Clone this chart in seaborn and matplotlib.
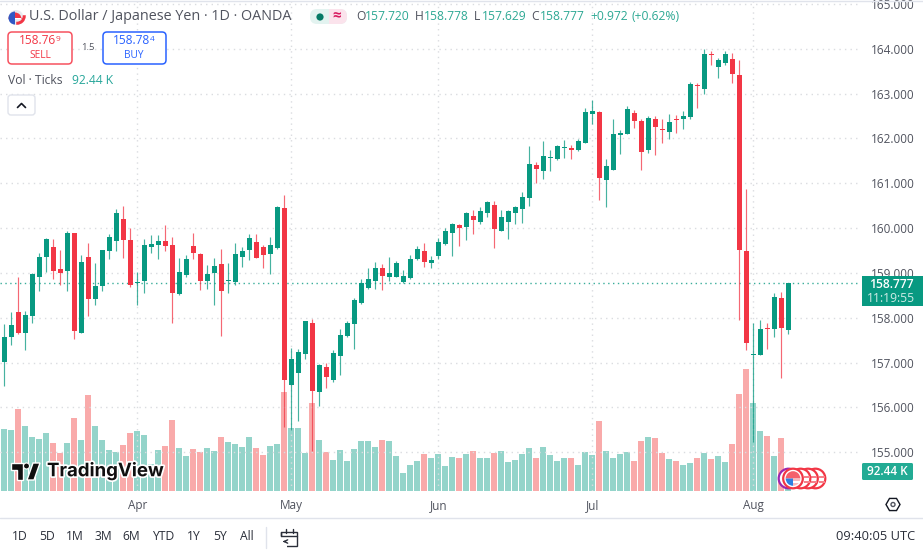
import numpy as np
import pandas as pd
import seaborn as sns
import matplotlib
matplotlib.use("Agg")
import matplotlib.pyplot as plt
import matplotlib.patheffects as pe
from matplotlib.patches import FancyBboxPatch, Circle, Rectangle, Polygon, Wedge, RegularPolygon

opens = [157.01,157.58,158.12,157.65,158.05,158.91,159.35,159.58,159.09,159.04,159.89,157.67,159.36,158.41,158.70,159.48,159.72,160.21,159.74,158.77,
         158.81,159.58,159.63,159.72,159.63,158.53,158.95,159.60,159.43,158.81,159.00,159.19,158.83,158.79,159.36,159.50,159.69,159.58,159.43,159.56,
         160.44,156.49,156.76,157.20,157.89,156.34,156.90,156.61,157.14,157.59,157.86,158.32,158.67,158.83,159.10,158.91,158.91,158.80,158.89,159.30,
         159.49,159.21,159.37,159.64,159.88,160.07,160.02,160.26,160.14,160.34,160.52,159.94,160.14,160.34,160.43,160.66,161.41,161.27,161.57,161.54,
         161.79,161.79,161.73,161.90,162.55,162.58,161.08,161.30,162.07,162.09,162.56,162.39,161.73,162.43,162.20,162.14,162.44,162.43,162.47,163.19,
         163.10,163.87,163.58,163.68,163.78,163.41,159.49,157.17,157.17,157.78,157.74,158.45,157.72]
highs = [157.85,158.12,158.90,158.15,158.99,159.45,159.78,159.76,159.51,159.93,159.90,159.41,159.67,159.22,159.51,159.87,160.43,160.49,160.00,159.02,
         159.76,159.85,159.85,160.06,159.80,159.33,159.41,159.89,159.45,159.18,159.33,159.54,159.22,159.67,159.58,159.87,159.87,159.63,159.80,160.49,
         160.74,157.33,157.31,157.93,157.97,156.96,156.99,157.29,157.76,157.93,158.43,158.86,159.11,159.25,159.20,159.36,159.26,159.06,159.40,159.60,
         159.66,159.38,159.77,160.00,160.11,160.10,160.35,160.40,160.46,160.60,160.61,160.40,160.41,160.50,160.80,161.82,161.47,161.95,161.75,161.86,
         161.97,161.86,161.98,162.67,162.85,162.61,161.54,162.44,162.18,162.72,162.63,162.43,162.50,162.50,162.44,162.55,162.52,162.61,163.25,163.23,
         163.99,163.94,163.79,163.94,163.90,163.74,160.88,157.88,157.94,157.88,158.55,158.57,158.778]
lows = [156.47,157.40,157.63,157.29,157.88,158.59,159.01,158.86,158.74,158.59,157.52,157.66,158.03,158.28,158.59,159.30,159.48,159.34,158.68,158.28,
        158.56,159.45,159.31,159.48,157.89,158.51,158.91,159.30,158.61,158.65,158.28,157.59,158.56,158.74,159.13,159.29,159.33,159.11,158.97,159.54,
        155.56,155.49,155.70,157.07,155.04,156.03,156.44,156.56,156.73,157.58,157.31,158.31,158.64,158.65,158.61,158.82,158.90,158.78,158.87,159.29,
        159.13,159.11,159.31,159.63,159.38,159.61,159.73,159.86,160.08,160.25,159.56,159.93,159.75,160.08,160.11,160.49,161.01,161.09,161.28,161.52,
        161.56,161.54,161.71,161.89,162.31,160.63,160.48,161.29,161.66,162.09,162.24,161.30,161.68,161.62,161.89,161.98,162.13,162.20,162.44,162.67,
        162.99,163.63,163.34,163.63,163.23,157.95,157.28,155.24,157.16,157.31,157.56,156.66,157.629]
closes = [157.56,157.83,157.65,158.07,158.98,159.36,159.76,159.04,159.00,159.89,157.70,159.24,158.41,158.71,159.50,159.80,160.34,159.74,158.73,158.80,
          159.63,159.65,159.72,159.60,158.56,159.02,159.30,159.44,158.81,158.98,159.15,158.60,158.85,159.43,159.49,159.78,159.34,159.41,159.63,160.47,
          156.62,157.08,157.24,157.92,156.36,156.94,156.67,157.22,157.61,157.89,158.39,158.77,158.86,159.10,158.93,158.99,159.21,158.92,159.31,159.53,
          159.24,159.28,159.68,159.94,160.10,160.01,160.33,160.17,160.37,160.57,159.97,160.24,160.37,160.48,160.69,161.43,161.31,161.60,161.58,161.82,
          161.81,161.74,161.94,162.58,162.61,161.11,161.38,162.09,162.12,162.65,162.38,161.69,162.46,162.25,162.18,162.37,162.41,162.50,163.21,163.17,
          163.87,163.86,163.74,163.87,163.43,159.52,157.43,157.20,157.75,157.76,158.47,157.77,158.777]
volumes = [308,303,404,323,265,255,285,237,190,237,361,250,475,323,250,203,193,227,288,295,
           275,132,203,222,351,213,175,208,194,213,198,265,241,232,218,265,213,180,222,232,
           489,313,313,190,437,250,194,152,203,147,208,246,246,218,250,246,171,89,127,147,
           185,165,185,122,170,165,185,198,165,165,190,198,142,152,185,213,165,218,180,150,
           165,162,127,194,180,348,198,165,185,194,147,246,265,260,190,160,147,127,137,165,
           190,160,175,142,232,480,605,437,295,270,171,260,92.44]
price_ticks = [155,156,157,158,159,160,161,162,163,164,165]
month_labels = ["Apr","May","Jun","Jul","Aug"]
month_bars = [19,41,62,84,107]
range_buttons = ["1D","5D","1M","3M","6M","YTD","1Y","5Y","All"]
last_price = 158.777

GREEN="#089981"; RED="#F23645"; VGREEN="#94D4CA"; VRED="#F9AAAA"; TEXT="#131722"; GREY="#50535E"
sns.set_style("white")
plt.rcParams['font.family'] = ['Open Sans','DejaVu Sans']

W,H=923,550
fig=plt.figure(figsize=(W/100,H/100),dpi=100,facecolor="white")
rect=[0,(H-491)/H,860/W,491/H]
axv=fig.add_axes(rect,zorder=1)
ax=fig.add_axes(rect,zorder=2,facecolor="none")
ov=fig.add_axes([0,0,1,1],zorder=3,facecolor="none")
ov.set_xlim(0,W); ov.set_ylim(H,0); ov.axis("off")

n=len(opens)
df=pd.DataFrame(dict(bar=np.arange(n),open=opens,high=highs,low=lows,close=closes,vol=volumes))
df["dir"]=np.where(df.close>=df.open,"up","down")
xl=(-0.619,122.24)

# volume
sns.barplot(data=df,x="bar",y="vol",hue="dir",native_scale=True,dodge=False,width=0.82,gap=0,linewidth=0,
            palette={"up":VGREEN,"down":VRED},saturation=1,legend=False,ax=axv)
axv.set_xlim(*xl); axv.set_ylim(0,2425); axv.axis("off")

# candles
for d,c in (("up",GREEN),("down",RED)):
    s=df[df.dir==d]
    ax.vlines(s.bar,s.low,s.high,color=c,lw=0.85,alpha=.75,zorder=3)
    ax.bar(s.bar,(s.close-s.open).abs().clip(lower=0.02),bottom=s[["open","close"]].min(axis=1),width=0.72,color=c,zorder=4,linewidth=0)

ax.set_xlim(*xl); ax.set_ylim(154.137,165.085)
for sp in ax.spines.values(): sp.set_visible(False)
ax.yaxis.tick_right()
ax.set_yticks(price_ticks); ax.set_yticklabels([f"{p:.3f}" for p in price_ticks])
ax.set_xticks(month_bars); ax.set_xticklabels(month_labels)
ax.tick_params(axis="y",length=0,pad=7.5,labelsize=8.5,labelcolor=GREY)
ax.tick_params(axis="x",length=0,pad=6,labelsize=8.5,labelcolor=GREY)
ax.grid(True,color="#DADCE0",lw=1,ls=(0,(1,3)))
ax.set_axisbelow(True)
ax.axhline(last_price,color=GREEN,lw=1,ls=(0,(1,2.5)),alpha=.8,zorder=2)

def T(x,y,s,size=8.7,color=TEXT,ha="left",va="center",**k):
    return ov.text(x,y,s,fontsize=size,color=color,ha=ha,va=va,**k)
def box(x0,y0,x1,y1,r,ec,fc="white",lw=1.1,z=5):
    ov.add_patch(FancyBboxPatch((x0+r,y0+r),x1-x0-2*r,y1-y0-2*r,boxstyle=f"round,pad={r},rounding_size={r}",ec=ec,fc=fc,lw=lw,zorder=z))

# frame lines
ov.plot([0,W],[0.5,0.5],color="#E0E3EB",lw=1)
ov.plot([0,W],[518,518],color="#E0E3EB",lw=1)

# header
ov.add_patch(Circle((16,17.5),7.5,fc="#E8EAF0",ec="none"))
ov.add_patch(Wedge((15,19),6.5,180,360,fc="#F23645",ec="none",zorder=4))
ov.add_patch(Rectangle((9,17.5),12,1.5,fc="white",ec="none",zorder=4))
ov.add_patch(Wedge((15,18),6.5,90,270,fc="#3157C4",ec="none",zorder=4))
ov.add_patch(Wedge((17,16),8,0,90,fc="none",ec="#F23645",lw=1.1,width=1.5,zorder=4))
T(29,17,"U.S. Dollar / Japanese Yen · 1D · OANDA",size=10.35,color=GREY)
box(310,9,347,24,7,"none","#E3F3F0")
ov.add_patch(Rectangle((329,9),11,15,fc="#FBE3EC",ec="none",zorder=5))
box(333,9,347,24,7,"none","#FBE3EC")
ov.add_patch(Rectangle((329,9),8,15,fc="#FBE3EC",ec="none",zorder=5))
ov.add_patch(Circle((320,17),3.6,fc="#067A66",ec="none",zorder=6))
T(337,16.5,"≈",size=11,color="#D81B60",ha="center",zorder=6,fontweight="bold")
for x,s,c in [(356,"O",GREY),(365,"157.720",GREEN),(415,"H",GREY),(424,"158.778",GREEN),(474,"L",GREY),(482,"157.629",GREEN),(531,"C",GREY),(540,"158.777",GREEN),(590,"+0.972",GREEN),(632,"(+0.62%)",GREEN)]:
    T(x,17,s,size=8.7,color=c,alpha=1 if c==GREY else .85)

box(8,32,72,64,4,"#F7525F")
T(19,41,"158.76",size=8.6,color="#F23645",zorder=6); T(56,39.5,"9",size=6,color="#F23645",zorder=6)
T(40,55,"SELL",size=7.3,color="#F23645",ha="center",zorder=6)
box(103,32,166,64,4,"#2962FF")
T(113,41,"158.78",size=8.6,color="#2962FF",zorder=6); T(150,39.5,"4",size=6,color="#2962FF",zorder=6)
T(134,55,"BUY",size=7.3,color="#2962FF",ha="center",zorder=6)
T(87.5,48,"1.5",size=6.8,color=GREY,ha="center")
T(8,81,"Vol · Ticks",size=8.7,color=GREY)
T(72,81,"92.44 K",size=8.7,color="#26A69A")
box(8,95,35,115,3,"#E0E3EB",lw=1)
ov.plot([17.5,21.5,25.5],[107.5,103.5,107.5],color=TEXT,lw=1.2,zorder=6)

# right tags
ov.add_patch(Rectangle((862,276),61,30,fc=GREEN,ec="none",zorder=5))
T(891,284.5,"158.777",size=8.7,color="white",ha="center",zorder=6,fontweight="semibold")
T(891,298,"11:19:55",size=8.7,color="#CFEBE6",ha="center",zorder=6)
box(862,463,913,480,1.5,"none","#22AB94")
T(887.5,471.5,"92.44 K",size=8.5,color="white",ha="center",zorder=6,fontweight="semibold")
ov.add_patch(RegularPolygon((893,504.5),6,radius=7,orientation=np.pi/6,fc="none",ec=TEXT,lw=1,zorder=6))
ov.add_patch(Circle((893,504.5),2,fc="none",ec=GREY,lw=1,zorder=6))

# logo
halo=[pe.withStroke(linewidth=2.5,foreground="white")]
T(47,471.5,"TradingView",size=13.4,color="#0F0F0F",fontweight="bold",family=["Inter","DejaVu Sans"],path_effects=halo,zorder=6)
for pts in ([(11,463),(23,463),(23,480),(17,480),(17,470),(11,470)],
            [(27,480),(33,463),(40,463),(34,480)]):
    ov.add_patch(Polygon(pts,fc="#0F0F0F",ec="white",lw=1,zorder=6))
ov.add_patch(Circle((26.5,466),3,fc="#0F0F0F",ec="white",lw=.8,zorder=6))

# event icons
for k,cx in enumerate([815.5,808,800.5]):
    ov.add_patch(Circle((cx,478.5),9.8,fc="white",ec="#F23645",lw=1.6,zorder=6+k*.1))
    ov.add_patch(Rectangle((cx+3,476),6,2,fc="#F6818B",ec="none",zorder=6.05+k*.1))
    ov.add_patch(Rectangle((cx+3,481),6,2,fc="#F6818B",ec="none",zorder=6.05+k*.1))
ov.add_patch(Circle((788.5,478.5),9.8,fc="white",ec="#9C27B0",lw=1.6,zorder=6.5))
ov.add_patch(Circle((793,478.5),9.8,fc="white",ec="#F23645",lw=1.6,zorder=6.6))
ov.add_patch(Wedge((793,478.5),7.3,180,360,fc="#F4606C",ec="none",zorder=6.7))
ov.add_patch(Rectangle((785.7,481.2),14.6,1.3,fc="white",ec="none",zorder=6.8))
ov.add_patch(Wedge((793,478.5),7.3,90,180,fc="#2F7FE0",ec="none",zorder=6.8))
ov.add_patch(Wedge((793,478.5),7.3,0,90,fc="#F8B9BE",ec="none",zorder=6.7))

# bottom bar
for x,s in zip([20,47,75,103,131,163,194,220,247],range_buttons):
    T(x,537,s,size=8.7,color="#2A2E39",ha="center")
ov.plot([265.5,265.5],[527,548],color="#E0E3EB",lw=1)
ov.add_patch(Rectangle((281,532),15.5,14,fc="none",ec="#2A2E39",lw=1))
ov.add_patch(Rectangle((279,536),8,11.5,fc="white",ec="none",zorder=3))
ov.plot([281,281],[532,536],color="#2A2E39",lw=1,zorder=4)
ov.plot([281,297],[535.5,535.5],color="#2A2E39",lw=1,zorder=4)
ov.plot([285.5,285.5],[529,532.5],color="#2A2E39",lw=1,zorder=4)
ov.plot([292.5,292.5],[529,532.5],color="#2A2E39",lw=1,zorder=4)
ov.annotate("",xy=(280,541.5),xytext=(288,541.5),arrowprops=dict(arrowstyle="->",color="#2A2E39",lw=1,mutation_scale=6),zorder=4)
T(915,536.5,"09:40:05 UTC",size=9.3,color="#2A2E39",ha="right")

fig.savefig("out.png",dpi=100)
